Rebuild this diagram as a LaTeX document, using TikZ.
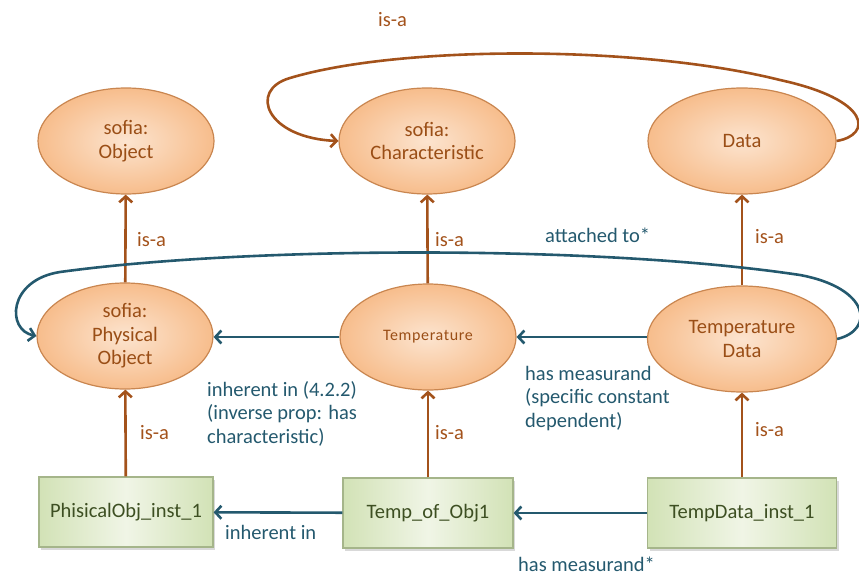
\documentclass[tikz,border=0pt]{standalone}
\usepackage{fontspec}
\setmainfont{Carlito}
\usetikzlibrary{arrows.meta,shapes.geometric,shadows}
\definecolor{brn}{HTML}{A3521B}
\definecolor{blu}{HTML}{24596E}
\definecolor{ebord}{HTML}{C98650}
\definecolor{efillin}{HTML}{FCE4CF}
\definecolor{efillout}{HTML}{F7BD8C}
\definecolor{gbord}{HTML}{A5B58A}
\definecolor{gfillmid}{HTML}{F0F5E6}
\definecolor{gfilledge}{HTML}{D2E2B6}
\definecolor{gtext}{HTML}{3D4F22}
\definecolor{etext}{HTML}{9A4E16}
\tikzset{
 bigfont/.style={font=\fontsize{20.5}{23.5}\selectfont},
 cls/.style={ellipse, draw=ebord, line width=1.2pt, inner color=efillin, outer color=efillout,
   minimum width=176pt, minimum height=106pt, inner sep=0pt, align=center, text=etext, bigfont},
 inst/.style={rectangle, draw=gbord, line width=1.2pt, left color=gfilledge, right color=gfilledge,
   middle color=gfillmid, minimum height=70pt, align=center, text=gtext, bigfont,
   drop shadow={opacity=0.3, shadow xshift=2pt, shadow yshift=-2.5pt}},
 isa/.style={draw=brn, line width=2.6pt, -{Straight Barb[length=6pt,width=13pt]}},
 rel/.style={draw=blu, line width=2.6pt, -{Straight Barb[length=6pt,width=13pt]}},
 brnlbl/.style={text=brn, bigfont, anchor=west, inner sep=0pt},
 blulbl/.style={text=blu, bigfont, anchor=north west, align=left, inner sep=0pt},
}
\begin{document}
\begin{tikzpicture}[x=1pt,y=-1pt]
\useasboundingbox (0,0) rectangle (859,575);
% top row
\node[cls] (obj) at (126,141) {sofia:\\Object};
\node[cls] (chr) at (427,141) {sofia:\\Characteristic};
\node[cls, minimum width=188pt] (data) at (742,141) {Data};
% middle row
\node[cls] (po) at (125,336) {sofia:\\Physical\\Object};
\node[cls, font=\fontsize{16}{19}\selectfont\addfontfeature{LetterSpace=4}] (temp) at (428,337) {Temperature};
\node[cls, minimum width=189pt] (td) at (742,339) {Temperature\\Data};
% bottom row
\node[inst, minimum width=174pt] (pinst) at (126,512) {PhisicalObj\_inst\_1};
\node[inst, minimum width=170pt] (tobj) at (428,513) {Temp\_of\_Obj1};
\node[inst, minimum width=189pt] (tdinst) at (742,513) {TempData\_inst\_1};
% is-a arrows
\draw[isa] (po) -- (obj);
\draw[isa] (temp) -- (chr);
\draw[isa] (td) -- (data);
\draw[isa] (pinst) -- (po);
\draw[isa] (tobj) -- (temp);
\draw[isa] (tdinst) -- (td);
% blue relations
\draw[rel] (temp) -- (temp -| po.east);
\draw[rel] (td.west |- temp) -- (temp.east);
\draw[rel] (tobj) -- (pinst);
\draw[rel] (tdinst) -- (tobj);
% big curves
\draw[isa] (data.east) .. controls (872,135) and (872,100) .. (780,80)
  .. controls (640,45) and (400,45) .. (290,78)
  .. controls (248,90) and (266,138) .. (chr.west);
\draw[rel] (td.east) .. controls (875,330) and (870,288) .. (800,275)
  .. controls (600,245) and (250,246) .. (60,272)
  .. controls (8,280) and (6,330) .. (po.west);
% labels
\node[brnlbl] (l0) at (378,20) {is-a};
\node[brnlbl] (l1) at (137,240) {is-a};
\node[brnlbl] (l2) at (435,240) {is-a};
\node[brnlbl] (l3) at (755,237) {is-a};
\node[brnlbl] (l4) at (140,433) {is-a};
\node[brnlbl] (l5) at (435,433) {is-a};
\node[brnlbl] (l6) at (755,430) {is-a};
\node[blulbl, anchor=west] (la) at (545,235) {attached to*};
\node[blulbl] (lb) at (207,381) {inherent in (4.2.2)\\(inverse prop: has\\characteristic)};
\node[blulbl] (lc) at (525,366) {has measurand\\(specific constant\\dependent)};
\node[blulbl, anchor=west] (ld) at (225,532) {inherent in};
\node[blulbl, anchor=west] (le) at (518,564) {has measurand*};
\end{tikzpicture}
\end{document}
